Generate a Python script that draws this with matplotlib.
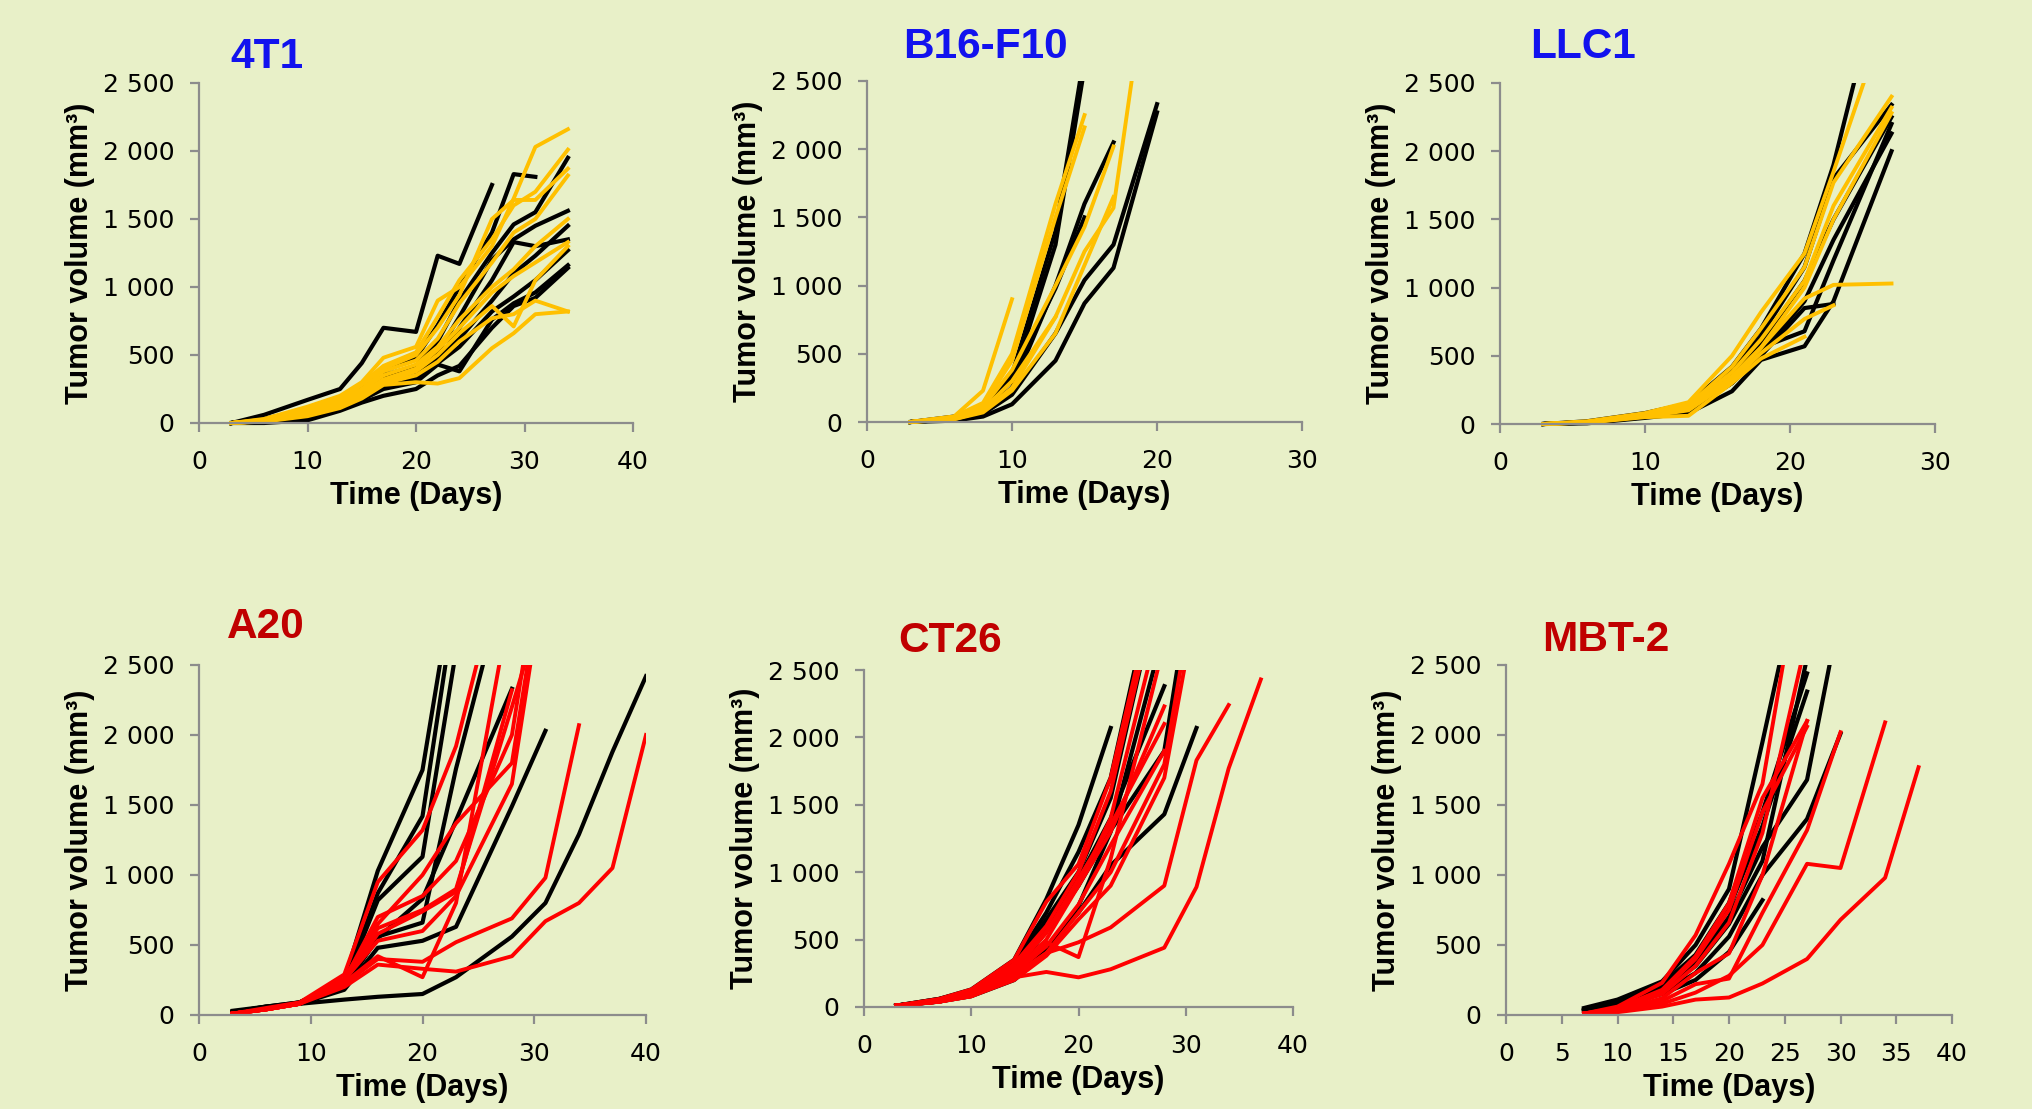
import numpy as np
import matplotlib
matplotlib.use("Agg")
import matplotlib.pyplot as plt
from matplotlib.patches import Rectangle
from matplotlib.ticker import FuncFormatter, MultipleLocator

BG = "#E8F0C8"
GOLD = "#FFC000"
RED = "#FF0000"
BLUE = "#1212EE"
DARKRED = "#C00000"

# ---- 4T1 ----
T4_DAYS = [3, 6, 10, 13, 15, 17, 20, 22, 24, 27, 29, 31, 34]
T4_BLACK = [
    [0, 60, 170, 250, 440, 700, 670, 1230, 1170, 1750],
    [0, 30, 100, 170, 270, 380, 480, 720, 1000, 1400, 1830, 1810],
    [0, 20, 60, 150, 230, 350, 420, 600, 900, 1250, 1460, 1550, 1950],
    [0, 25, 80, 160, 250, 330, 400, 520, 780, 1200, 1350, 1450, 1560],
    [0, 20, 70, 130, 220, 320, 380, 450, 700, 1050, 1330, 1300, 1350],
    [0, 15, 60, 120, 200, 300, 340, 480, 620, 900, 1100, 1230, 1450],
    [0, 10, 50, 110, 190, 270, 330, 440, 560, 820, 930, 1050, 1270],
    [0, 10, 30, 100, 170, 250, 300, 430, 380, 760, 880, 960, 1160],
    [0, 0, 20, 90, 150, 200, 250, 350, 420, 700, 860, 920, 1140],
]
T4_GOLD = [
    [0, 30, 120, 200, 300, 480, 560, 900, 1000, 1300, 1650, 2030, 2160],
    [0, 25, 100, 180, 290, 420, 520, 780, 1050, 1350, 1600, 1700, 2010],
    [0, 20, 90, 170, 280, 400, 500, 700, 940, 1500, 1640, 1640, 1870],
    [0, 20, 80, 160, 250, 380, 460, 620, 880, 1180, 1400, 1500, 1820],
    [0, 15, 80, 150, 240, 350, 430, 560, 760, 1000, 1130, 1300, 1500],
    [0, 15, 70, 140, 220, 320, 400, 540, 700, 960, 1080, 1180, 1330],
    [0, 12, 60, 130, 200, 300, 380, 500, 660, 860, 710, 1050, 1300],
    [0, 10, 50, 110, 180, 280, 300, 290, 330, 550, 660, 800, 820],
    [0, 15, 60, 130, 190, 290, 350, 450, 600, 770, 800, 900, 820],
]

# ---- B16-F10 ----
B16_DAYS = [3, 6, 8, 10, 13, 15, 17, 20]
B16_BLACK = [
    [0, 40, 110, 350, 1400, 2700],
    [0, 30, 100, 300, 1300, 2600],
    [0, 30, 80, 250, 1000, 1600, 2050],
    [0, 20, 60, 200, 650, 1040, 1300, 2330],
    [0, 10, 40, 130, 450, 870, 1130, 2270],
    [0, 20, 80, 330, 980, 1500],
]
B16_GOLD = [
    [0, 40, 230, 900],
    [0, 40, 140, 500, 1600, 2250],
    [0, 35, 120, 450, 1500, 2160],
    [0, 30, 110, 380, 1000, 1430, 2020],
    [0, 25, 90, 300, 770, 1250, 1570, 3800],
    [0, 20, 80, 250, 770],
    [0, 20, 70, 230, 650, 1150, 1650],
]

# ---- LLC1 ----
LLC_DAYS = [3, 6, 10, 13, 16, 18, 21, 23, 27]
LLC_BLACK = [
    [0, 20, 80, 150, 420, 700, 1250, 1900, 3600],
    [0, 15, 70, 120, 380, 650, 1150, 1800, 2340],
    [0, 15, 60, 110, 340, 600, 1050, 1500, 2250],
    [0, 10, 55, 100, 300, 520, 900, 1350, 2130],
    [0, 5, 45, 80, 240, 470, 570, 900, 2000],
    [0, 10, 50, 100, 300, 500, 850, 880],
    [0, 12, 60, 110, 330, 560, 680, 1200, 2200],
]
LLC_GOLD = [
    [0, 20, 80, 160, 500, 820, 1250, 1850, 3100],
    [0, 15, 70, 140, 420, 700, 1150, 1770, 2400],
    [0, 15, 70, 130, 380, 620, 1050, 1600, 2320],
    [0, 12, 60, 110, 350, 560, 920, 1020, 1030],
    [0, 12, 55, 100, 320, 520, 770, 870],
    [0, 10, 50, 60, 300, 480, 640],
    [0, 12, 60, 120, 340, 560, 1000, 1500, 2280],
]

# ---- A20 ----
A20_DAYS = [3, 6, 9, 13, 16, 20, 23, 28, 31, 34, 37, 40]
A20_BLACK = [
    [20, 60, 90, 250, 1030, 1750, 3200],
    [20, 60, 90, 230, 870, 1420, 3000],
    [20, 50, 90, 220, 820, 1130, 2600],
    [20, 50, 80, 200, 560, 660, 1760, 3300],
    [20, 50, 80, 180, 480, 530, 630, 1490, 2030],
    [30, 60, 80, 110, 130, 150, 270, 560, 800, 1290, 1880, 2420],
    [20, 50, 85, 200, 550, 830, 1390, 2330],
]
A20_RED = [
    [10, 50, 90, 290, 950, 1320, 1920, 3500],
    [10, 40, 80, 260, 650, 1000, 1370, 1800, 3300],
    [10, 40, 80, 240, 580, 740, 880, 2320],
    [10, 40, 80, 230, 420, 270, 800, 3000],
    [10, 40, 80, 250, 700, 850, 1100, 2000, 3500],
    [10, 40, 80, 250, 530, 600, 850, 1650, 3200],
    [10, 40, 85, 220, 400, 380, 520, 690, 980, 2070],
    [10, 40, 80, 200, 360, 330, 310, 420, 670, 800, 1050, 2000],
    [10, 40, 80, 260, 620, 750, 900, 2200, 3000],
]

# ---- CT26 ----
CT_DAYS = [3, 7, 10, 14, 17, 20, 23, 28, 31, 34, 37]
CT_BLACK = [
    [10, 60, 130, 350, 800, 1350, 2070],
    [10, 60, 120, 330, 700, 1150, 1700, 3500],
    [10, 50, 110, 300, 650, 1000, 1550, 3300],
    [10, 50, 100, 280, 600, 950, 1400, 2380],
    [10, 50, 100, 260, 560, 900, 1310, 1900, 3400],
    [10, 40, 90, 220, 430, 700, 1050, 1430, 2070],
    [10, 40, 80, 200, 400, 750, 1300, 2800],
]
CT_RED = [
    [10, 40, 80, 220, 260, 220, 280, 440, 890, 1770, 2430],
    [10, 40, 90, 240, 400, 480, 590, 900, 1830, 2240],
    [10, 40, 90, 260, 500, 900, 1300, 2230],
    [10, 50, 100, 280, 550, 950, 1350, 2100],
    [10, 40, 90, 250, 450, 760, 1200, 1900],
    [10, 60, 130, 350, 780, 1060, 1700, 3400],
    [10, 50, 110, 320, 600, 1000, 1600, 3300],
    [10, 50, 100, 300, 560, 900, 1400, 3000],
    [10, 40, 90, 260, 480, 370, 1100, 2700],
    [10, 40, 80, 220, 400, 700, 1000, 1800, 3200],
    [10, 40, 80, 200, 380, 650, 900, 1700, 3000],
]

# ---- MBT-2 ----
MBT_DAYS = [7, 10, 14, 17, 20, 23, 27, 30, 34, 37]
MBT_BLACK = [
    [50, 110, 240, 500, 900, 1950, 3400],
    [40, 100, 220, 430, 800, 1450, 2440],
    [40, 100, 200, 400, 760, 1350, 2310],
    [30, 90, 190, 380, 700, 1200, 1680, 2900],
    [30, 80, 180, 350, 650, 1100, 2550],
    [30, 80, 160, 300, 560, 1000, 1400, 2010],
    [20, 70, 150, 250, 450, 820],
]
MBT_RED = [
    [10, 60, 230, 570, 1080, 1650, 3500],
    [10, 50, 180, 420, 800, 1550, 2100],
    [10, 50, 170, 400, 750, 1450, 2060],
    [10, 40, 150, 350, 660, 1300, 2700],
    [10, 30, 120, 300, 440, 1000, 2100],
    [10, 30, 100, 220, 260, 730, 1320, 2020],
    [10, 30, 80, 160, 280, 500, 1080, 1050, 2090],
    [10, 20, 60, 110, 125, 225, 400, 680, 980, 1770],
]

W, H = 2032, 1109


def thousands(v, pos):
    return f"{int(v):,}".replace(",", " ")


def add_panel(fig, box, days, black, colored, color, xmax, xstep, title, tcol, tpos):
    l, t, r, b = box
    ax = fig.add_axes([l / W, 1 - b / H, (r - l) / W, (b - t) / H])
    ax.set_facecolor(BG)
    clip = Rectangle((0, -0.05), 1, 1.05, transform=ax.transAxes)
    for vals in black:
        ln, = ax.plot(days[:len(vals)], vals, color="black", lw=3.0)
        ln.set_clip_path(clip)
    for vals in colored:
        ln, = ax.plot(days[:len(vals)], vals, color=color, lw=2.8)
        ln.set_clip_path(clip)
    ax.set_xlim(0, xmax)
    ax.set_ylim(0, 2500)
    ax.xaxis.set_major_locator(MultipleLocator(xstep))
    ax.yaxis.set_major_locator(MultipleLocator(500))
    ax.yaxis.set_major_formatter(FuncFormatter(thousands))
    for s in ["top", "right"]:
        ax.spines[s].set_visible(False)
    for s in ["left", "bottom"]:
        ax.spines[s].set_color("#8C8C8C")
        ax.spines[s].set_linewidth(1.6)
    ax.tick_params(axis="both", direction="out", length=6.5, width=1.6,
                   color="#8C8C8C", labelsize=18, labelcolor="black")
    ax.tick_params(axis="y", pad=11)
    ax.tick_params(axis="x", pad=13)
    ax.set_xlabel("Time (Days)", fontsize=22, fontweight="bold",
                  family="Liberation Sans", labelpad=5)
    ax.set_ylabel("Tumor volume (mm³)", fontsize=22, fontweight="bold",
                  family="Liberation Sans", labelpad=6)
    fig.text(tpos[0] / W, 1 - tpos[1] / H, title, color=tcol, fontsize=30.5,
             fontweight="bold", family="Liberation Sans", ha="left", va="center")
    return ax


fig = plt.figure(figsize=(W / 100, H / 100), dpi=100)
fig.patch.set_facecolor(BG)

add_panel(fig, (199, 83, 633, 423), T4_DAYS, T4_BLACK, T4_GOLD, GOLD,
          40, 10, "4T1", BLUE, (230, 57))
add_panel(fig, (867, 81, 1302, 422), B16_DAYS, B16_BLACK, B16_GOLD, GOLD,
          30, 10, "B16-F10", BLUE, (903, 47))
add_panel(fig, (1500, 83, 1935, 424), LLC_DAYS, LLC_BLACK, LLC_GOLD, GOLD,
          30, 10, "LLC1", BLUE, (1530, 47))
add_panel(fig, (199, 665, 646, 1015), A20_DAYS, A20_BLACK, A20_RED, RED,
          40, 10, "A20", DARKRED, (227, 627))
add_panel(fig, (864, 670, 1293, 1007), CT_DAYS, CT_BLACK, CT_RED, RED,
          40, 10, "CT26", DARKRED, (898, 641))
add_panel(fig, (1506, 665, 1952, 1015), MBT_DAYS, MBT_BLACK, MBT_RED, RED,
          40, 5, "MBT-2", DARKRED, (1542, 640))

fig.savefig("out.png", dpi=100, facecolor=BG)
